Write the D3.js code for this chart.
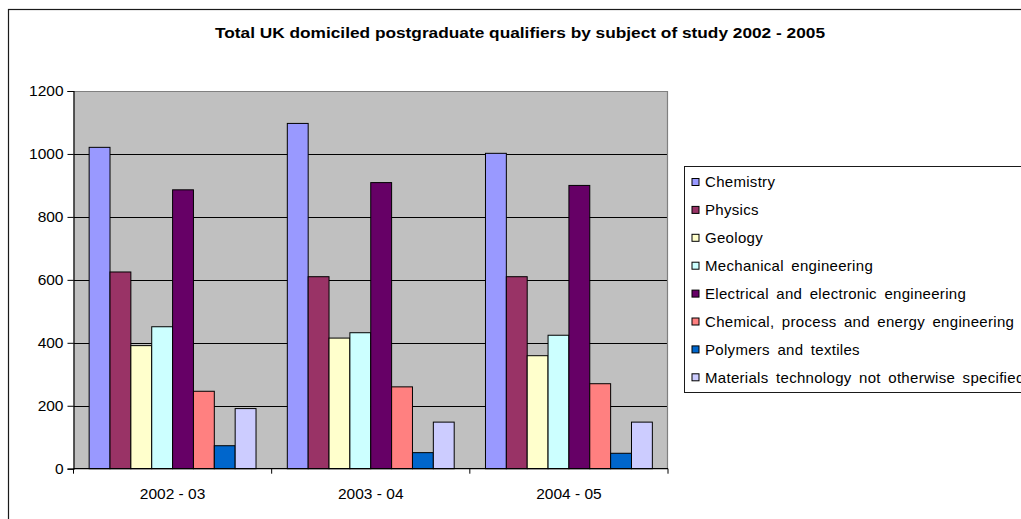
<!DOCTYPE html>
<html>
<head>
<meta charset="utf-8">
<script src="https://cdn.jsdelivr.net/npm/d3@7"></script>
<style>
  html, body { margin: 0; padding: 0; background: #fff; overflow: hidden; }
  svg { display: block; font-family: "Liberation Sans", Arial, sans-serif; }
</style>
</head>
<body>
<svg id="chart" width="1021" height="519"></svg>
<script>
// Academic years on the category axis
const years = ["2002 - 03", "2003 - 04", "2004 - 05"];

// Subjects (one series each) and their fill colours
const subjects = [
  "Chemistry",
  "Physics",
  "Geology",
  "Mechanical engineering",
  "Electrical and electronic engineering",
  "Chemical, process and energy engineering",
  "Polymers and textiles",
  "Materials technology not otherwise specified"
];
const colors = ["#9999FF", "#993366", "#FFFFCC", "#CCFFFF", "#660066", "#FF8080", "#0066CC", "#CCCCFF"];

// Qualifiers per subject, by year
const chemistry  = [1021, 1097, 1002];
const physics    = [625, 610, 610];
const geology    = [391, 415, 359];
const mechanical = [451, 432, 424];
const electrical = [886, 909, 900];
const chemical   = [246, 260, 270];
const polymers   = [73, 51, 49];
const materials  = [191, 148, 148];

const yTicks = [0, 200, 400, 600, 800, 1000, 1200];
const title = "Total UK domiciled postgraduate qualifiers by subject of study 2002 - 2005";

const seriesValues = [chemistry, physics, geology, mechanical, electrical, chemical, polymers, materials];

const svg = d3.select("#chart");

// Outer chart frame (extends past the right and bottom edges)
svg.append("rect")
  .attr("x", 8.5).attr("y", 9.5)
  .attr("width", 1200).attr("height", 700)
  .attr("fill", "#fff").attr("stroke", "#1a1a1a").attr("stroke-width", 1.2);

// Title
svg.append("text")
  .attr("x", 215).attr("y", 38)
  .attr("font-weight", "bold")
  .attr("font-size", 15)
  .attr("fill", "#000")
  .attr("textLength", 610)
  .attr("lengthAdjust", "spacingAndGlyphs")
  .text(title);

const plot = { left: 73.5, right: 668, top: 91, bottom: 468.7 };

const x0 = d3.scaleBand().domain(years).range([plot.left, plot.right]).paddingInner(0).paddingOuter(0);
const x1 = d3.scaleBand().domain(subjects).range([0, x0.bandwidth()]).paddingInner(0).paddingOuter(0.75);
const y = d3.scaleLinear().domain([0, 1200]).range([plot.bottom, plot.top]);

// Plot area background
svg.append("rect")
  .attr("x", plot.left).attr("y", plot.top)
  .attr("width", plot.right - plot.left).attr("height", plot.bottom - plot.top)
  .attr("fill", "#C0C0C0");

// Horizontal gridlines
svg.append("g")
  .selectAll("line")
  .data(yTicks.filter(t => t > 0 && t < 1200))
  .join("line")
  .attr("x1", plot.left).attr("x2", plot.right)
  .attr("y1", d => Math.round(y(d)) + 0.5).attr("y2", d => Math.round(y(d)) + 0.5)
  .attr("stroke", "#000").attr("stroke-width", 1);

// Plot area border (top and right in grey)
svg.append("path")
  .attr("d", `M${plot.left},${plot.top + 0.5}H${plot.right - 0.5}V${plot.bottom}`)
  .attr("fill", "none").attr("stroke", "#808080").attr("stroke-width", 1.2);

// Bars
const groups = svg.append("g")
  .selectAll("g")
  .data(years)
  .join("g")
  .attr("transform", d => `translate(${x0(d)},0)`);

groups.selectAll("rect")
  .data((yr, i) => subjects.map((s, j) => ({ s, j, v: seriesValues[j][i] })))
  .join("rect")
  .attr("x", d => x1(d.s))
  .attr("y", d => y(d.v))
  .attr("width", x1.bandwidth())
  .attr("height", d => y(0) - y(d.v))
  .attr("fill", d => colors[d.j])
  .attr("stroke", "#000")
  .attr("stroke-width", 1);

// Y axis
const yAxis = d3.axisLeft(y).tickValues(yTicks).tickSize(6).tickPadding(4).tickFormat(d3.format("d"));
const gy = svg.append("g").attr("transform", `translate(${plot.left},0)`).call(yAxis);
gy.select(".domain").attr("stroke", "#000").attr("stroke-width", 1.2);
gy.selectAll(".tick line").attr("stroke", "#000");
gy.selectAll(".tick text")
  .attr("font-size", 15.5).attr("fill", "#000")
  .attr("font-family", "'Liberation Sans', Arial, sans-serif");

// X axis: ticks sit on the category boundaries
const gx = svg.append("g").attr("transform", `translate(0,${plot.bottom})`);
gx.append("line")
  .attr("x1", plot.left).attr("x2", plot.right)
  .attr("stroke", "#000").attr("stroke-width", 1.2);
const boundaries = years.map(d => x0(d)).concat([x0(years[years.length - 1]) + x0.bandwidth()]);
gx.selectAll("line.tick")
  .data(boundaries)
  .join("line")
  .attr("class", "tick")
  .attr("x1", d => d).attr("x2", d => d)
  .attr("y1", 0).attr("y2", 5)
  .attr("stroke", "#000");
gx.selectAll("text")
  .data(years)
  .join("text")
  .attr("x", d => x0(d) + x0.bandwidth() / 2)
  .attr("y", 30)
  .attr("text-anchor", "middle")
  .attr("font-size", 15.5)
  .attr("fill", "#000")
  .text(d => d);

// Legend
const legend = svg.append("g");
legend.append("rect")
  .attr("x", 684.5).attr("y", 166.5)
  .attr("width", 400).attr("height", 226)
  .attr("fill", "#fff").attr("stroke", "#1a1a1a").attr("stroke-width", 1);

const rows = legend.selectAll("g.row")
  .data(subjects)
  .join("g")
  .attr("class", "row")
  .attr("transform", (d, i) => `translate(0,${182 + i * 27.9})`);
rows.append("rect")
  .attr("x", 692).attr("y", -3.5)
  .attr("width", 7).attr("height", 7)
  .attr("fill", (d, i) => colors[i])
  .attr("stroke", "#000").attr("stroke-width", 1);
rows.append("text")
  .attr("x", 705).attr("y", 0)
  .attr("dy", "0.35em")
  .attr("font-size", 15)
  .attr("letter-spacing", 0.3)
  .attr("word-spacing", 3)
  .attr("fill", "#000")
  .text(d => d);
</script>
</body>
</html>
